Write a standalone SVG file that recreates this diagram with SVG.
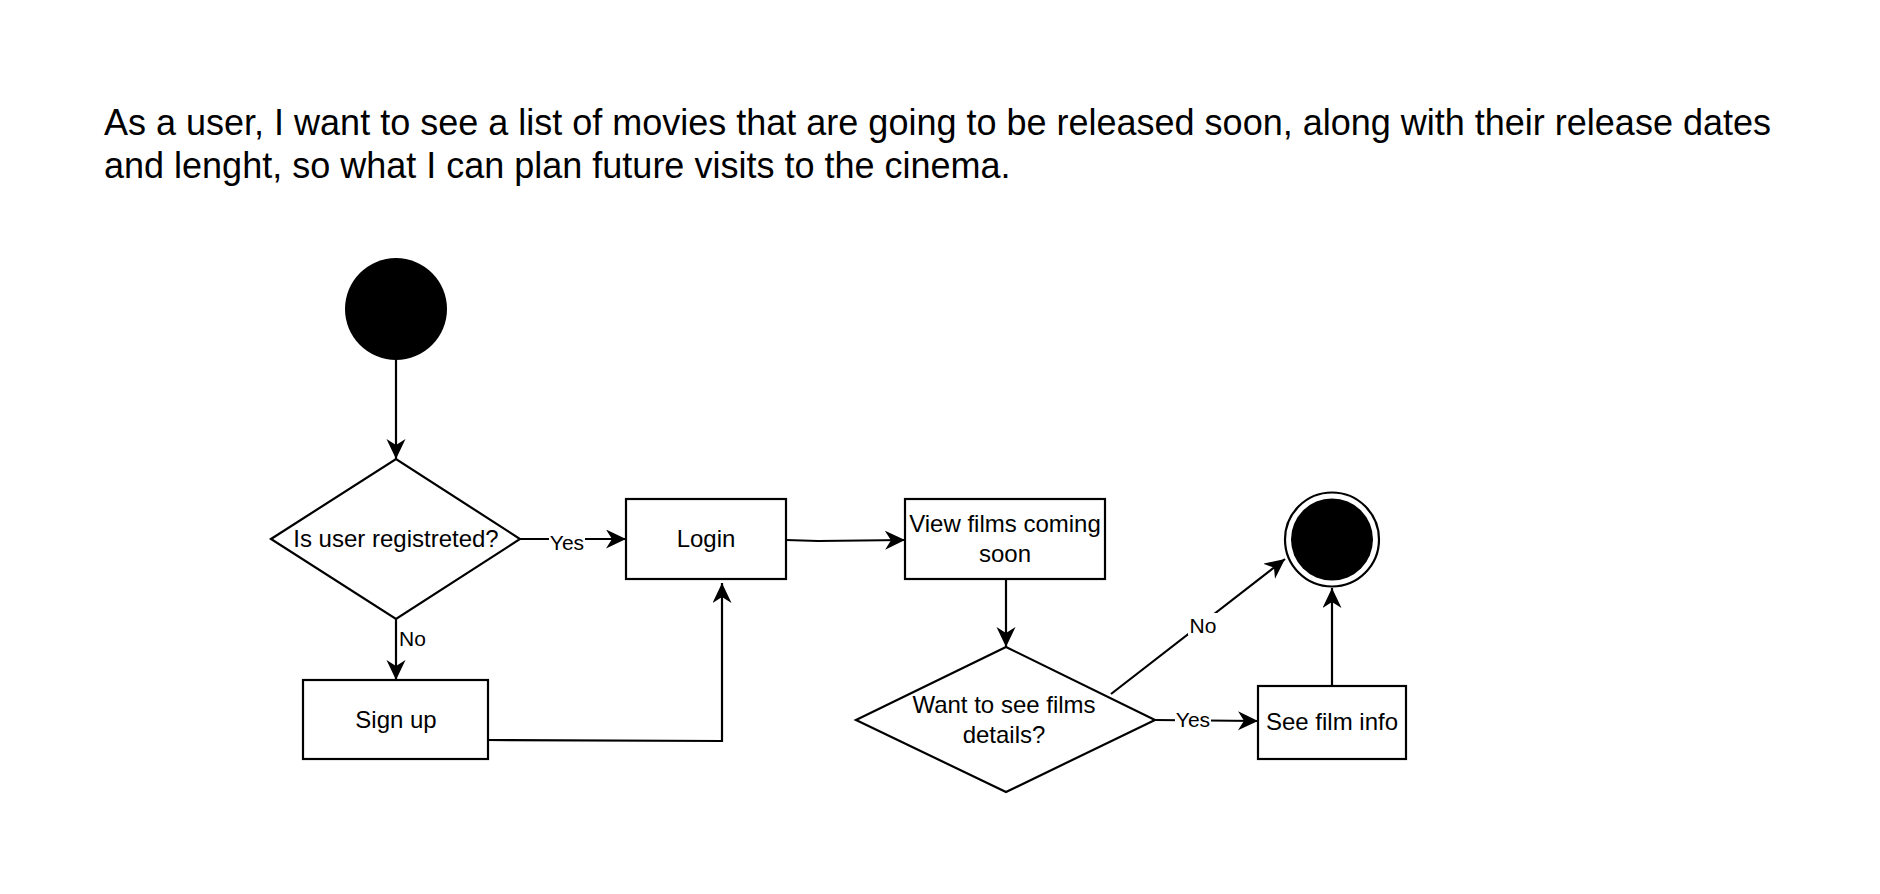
<svg xmlns="http://www.w3.org/2000/svg" width="1880" height="894" viewBox="0 0 1880 894">
<style>
text{font-family:"Liberation Sans",Arial,sans-serif;fill:#000}
.title{font-size:36px}
.lbl{font-size:24px;text-anchor:middle}
.el{font-size:21px;text-anchor:middle}
.shape{fill:#fff;stroke:#000;stroke-width:2.2}
.edge{fill:none;stroke:#000;stroke-width:2.2;marker-end:url(#arr)}
</style>
<defs>
<marker id="arr" markerUnits="userSpaceOnUse" markerWidth="22" markerHeight="20" refX="20" refY="9.5" orient="auto" viewBox="0 0 22 20">
<path d="M0,0 L20,9.5 L0,19 L6,9.5 Z" fill="#000"/>
</marker>
</defs>
<rect width="1880" height="894" fill="#fff"/>
<g id="title">
<text class="title" x="104" y="135">As a user, I want to see a list of movies that are going to be released soon, along with their release dates</text>
<text class="title" x="104" y="178">and lenght, so what I can plan future visits to the cinema.</text>
</g>
<g id="connectors">
<path class="edge" d="M396,360 L396,459"/>
<path class="edge" d="M520,539 L626,539"/>
<path class="edge" d="M396,619 L396,680"/>
<path class="edge" d="M486,740 L722,741 L722,583"/>
<path class="edge" d="M786,540 L818,541 L905,540"/>
<path class="edge" d="M1006,579 L1006,647"/>
<path class="edge" d="M1155,720 L1258,721"/>
<path class="edge" d="M1111,694 L1285,559"/>
<path class="edge" d="M1332,686 L1332,588"/>
<rect x="549" y="530" width="36" height="22" fill="#fff"/>
<text class="el" x="567" y="550">Yes</text>
<text class="el" x="399" y="646" style="text-anchor:start">No</text>
<rect x="1175" y="710" width="36" height="20" fill="#fff"/>
<text class="el" x="1193" y="727">Yes</text>
<rect x="1188" y="613" width="30" height="22" fill="#fff"/>
<text class="el" x="1203" y="633">No</text>
</g>
<g id="start">
<circle cx="396" cy="309" r="51" fill="#000"/>
</g>
<g id="registered">
<polygon class="shape" points="271,539 396,459 520,539 396,619"/>
<text class="lbl" x="396" y="547">Is user registreted?</text>
</g>
<g id="login">
<rect class="shape" x="626" y="499" width="160" height="80"/>
<text class="lbl" x="706" y="547">Login</text>
</g>
<g id="signup">
<rect class="shape" x="303" y="680" width="185" height="79"/>
<text class="lbl" x="396" y="728">Sign up</text>
</g>
<g id="viewfilms">
<rect class="shape" x="905" y="499" width="200" height="80"/>
<text class="lbl" x="1005" y="532">View films coming</text>
<text class="lbl" x="1005" y="562">soon</text>
</g>
<g id="wantdetails">
<polygon class="shape" points="856,720 1006,647 1155,720 1006,792"/>
<text class="lbl" x="1004" y="713">Want to see films</text>
<text class="lbl" x="1004" y="743">details?</text>
</g>
<g id="filminfo">
<rect class="shape" x="1258" y="686" width="148" height="73"/>
<text class="lbl" x="1332" y="730">See film info</text>
</g>
<g id="end">
<circle cx="1332" cy="539.5" r="47" fill="#fff" stroke="#000" stroke-width="2.2"/>
<circle cx="1332" cy="539.5" r="41" fill="#000"/>
</g>
</svg>
